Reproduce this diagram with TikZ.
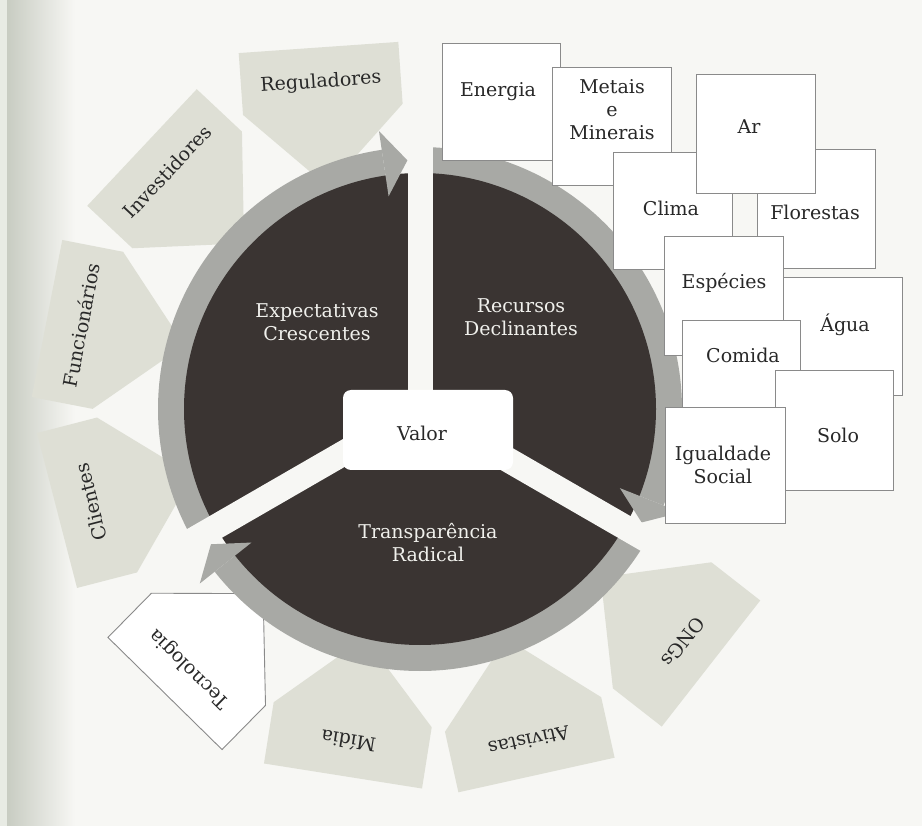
\documentclass[tikz,border=0pt]{standalone}
\usepackage{fontspec}
\setmainfont{DejaVu Serif}
\definecolor{bg}{RGB}{247,247,244}
\definecolor{beige}{RGB}{222,223,213}
\definecolor{ringgray}{RGB}{168,169,165}
\definecolor{darkpie}{RGB}{58,52,50}
\definecolor{boxline}{RGB}{138,138,138}
\definecolor{txt}{RGB}{40,40,40}
\definecolor{wtxt}{RGB}{240,240,236}
\definecolor{shadowc}{RGB}{200,204,194}
\definecolor{edgec}{RGB}{232,235,228}
\tikzset{
  lbl/.style={font=\fontsize{19}{23}\selectfont, text=txt, align=center, inner sep=0pt},
  wlbl/.style={lbl, text=wtxt},
  resbox/.style={draw=boxline, line width=0.9pt, fill=white, inner sep=0pt},
  plate/.style={fill=beige},
  plateW/.style={fill=white, draw=boxline, line width=0.9pt},
  gap/.style={draw=bg, line width=25pt},
  arrowhd/.style={fill=ringgray},
}
\newcommand{\stakeholder}[6]{%
  \begin{scope}[shift={(#2,#3)}, rotate=#4]
    \path[#5] (-80,0) -- (80,0) -- (80,-62) -- (0,-140) -- (-80,-62) -- cycle;
    \node[lbl, transform shape] (#1) at (0,-35) {#6};
  \end{scope}}
\newcommand{\resource}[5]{% name, cx, cy, w, h
  \node[resbox, minimum width=#4pt, minimum height=#5pt] (#1) at (#2,#3) {};}
\begin{document}
\begin{tikzpicture}[x=1pt,y=1pt]
\useasboundingbox (0,0) rectangle (922,-826);
\fill[bg] (0,0) rectangle (922,-826);
\fill[edgec] (0,0) rectangle (7,-826);
\shade[left color=shadowc, right color=bg] (7,0) rectangle (75,-826);

% stakeholders
\stakeholder{reg}{318.5}{-47.5}{4}{plate}{Reguladores}
\stakeholder{inv}{142}{-147.5}{46.8}{plate}{Investidores}
\stakeholder{func}{47}{-318.5}{79}{plate}{Funcionários}
\stakeholder{cli}{57}{-510.5}{104.5}{plate}{Clientes}
\stakeholder{tec}{165}{-693.5}{135.5}{plateW}{Tecnologia}
\stakeholder{mid}{343}{-776}{171}{plate}{Mídia}
\stakeholder{ati}{536.5}{-775}{192.5}{plate}{Ativistas}
\stakeholder{ong}{711}{-663.5}{232}{plate}{ONGs}

% pie
\coordinate (O) at (420,-409);
\begin{scope}[shift={(O)}]
  \fill[ringgray] (210:262pt) arc[start angle=210, end angle=98.4, radius=262pt]
     -- (98.4:225pt) arc[start angle=98.4, end angle=210, radius=225pt] -- cycle;
  \fill[ringgray] (90:262pt) arc[start angle=90, end angle=-21.6, radius=262pt]
     -- (-21.6:225pt) arc[start angle=-21.6, end angle=90, radius=225pt] -- cycle;
  \fill[ringgray] (330:262pt) arc[start angle=330, end angle=218.4, radius=262pt]
     -- (218.4:225pt) arc[start angle=218.4, end angle=330, radius=225pt] -- cycle;
  \fill[darkpie] (0,0) circle[radius=236pt];
  \fill[arrowhd] (92.9:249pt) -- (98.4:215pt) -- (98.4:281pt) -- cycle;
  \fill[arrowhd] (-27.1:249pt) -- (-21.6:215pt) -- (-21.6:281pt) -- cycle;
  \fill[arrowhd] (212.9:249pt) -- (218.4:215pt) -- (218.4:281pt) -- cycle;
  \draw[gap] (0,0) -- (90:268pt);
  \draw[gap] (0,0) -- (210:268pt);
  \draw[gap] (0,0) -- (-30:268pt);
\end{scope}
\node[fill=white, rounded corners=8pt, minimum width=170pt, minimum height=80pt, inner sep=0pt] (valorbox) at (428,-430) {};
\node[lbl] (valor) at (422,-433) {Valor};
\node[wlbl] (exp) at (317,-322) {Expectativas\\Crescentes};
\node[wlbl] (rec) at (521,-317) {Recursos\\Declinantes};
\node[wlbl] (tra) at (428,-543) {Transparência\\Radical};

% resources
\resource{energia}{501}{-101.5}{118}{117}
\node[lbl] (energiaT) at (498,-92) {Energia};
\resource{metais}{611.5}{-126}{119}{118}
\node[lbl] (metaisT) at (612,-110) {Metais\\e\\Minerais};
\resource{florestas}{816}{-208.5}{118}{119}
\node[lbl] (florestasT) at (815,-212) {Florestas};
\resource{clima}{672.5}{-210.5}{119}{117}
\node[lbl] (climaT) at (671,-208) {Clima};
\resource{ar}{755.5}{-133.5}{119}{119}
\node[lbl] (arT) at (749,-127) {Ar};
\resource{agua}{842.5}{-336}{119}{118}
\node[lbl] (aguaT) at (845,-325) {Água};
\resource{especies}{723.5}{-295.5}{119}{119}
\node[lbl] (especiesT) at (724,-283) {Espécies};
\resource{comida}{741}{-379}{118}{118}
\node[lbl] (comidaT) at (743,-355) {Comida};
\resource{solo}{834}{-430}{118}{120}
\node[lbl] (soloT) at (838,-435) {Solo};
\resource{igualdade}{725}{-465}{120}{116}
\node[lbl] (igualdadeT) at (723,-465) {Igualdade\\Social};
\end{tikzpicture}
\end{document}
